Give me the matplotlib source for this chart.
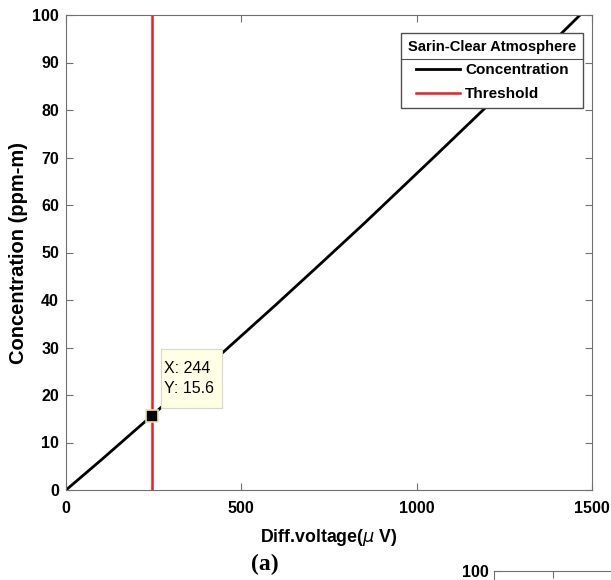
import matplotlib.pyplot as plt
from matplotlib.lines import Line2D
from matplotlib.patches import Rectangle

plt.rcParams['font.family'] = ['Liberation Sans', 'DejaVu Sans']

# Concentration curve
volt = [0, 100, 244, 445, 600, 724, 850, 1061, 1250, 1466, 1500]
conc = [0, 6.3, 15.6, 28.8, 39.1, 47.5, 56.1, 70.9, 84.3, 100.0, 102.5]

thr_x = 244
thr_y = 15.6

legend_title = 'Sarin-Clear Atmosphere'

fig = plt.figure(figsize=(6.11, 5.80), dpi=100)
ax = fig.add_axes([66/611, 90/580, 526/611, 475/580])

ax.plot(volt, conc, color='black', lw=2, label='Concentration')
ax.axvline(thr_x, color='#ee1c24', lw=1.8, label='Threshold')

# datatip
ax.plot([thr_x], [thr_y], marker='s', ms=9, mfc='black', mec='#e8e4b0', mew=1.2, zorder=5)
ax.add_patch(Rectangle((thr_x + 27, thr_y + 1.7), 174, 12.4, fc='#ffffe6', ec='#d8d8c8',
                       lw=0.8, zorder=6))
ax.text(thr_x + 36, thr_y + 7.9, 'X: %d\nY: %.1f' % (thr_x, thr_y), fontsize=11.5,
        linespacing=1.45, va='center', ha='left', zorder=7)

ax.set_xlim(0, 1500)
ax.set_ylim(0, 100)
ax.set_xticks([0, 500, 1000, 1500])
ax.set_yticks(range(0, 101, 10))
ax.tick_params(direction='in', top=True, right=True, length=5, color='#707070',
               labelsize=11.5)
ax.tick_params(axis='x', pad=8)
ax.tick_params(axis='y', pad=5)
for lab in ax.get_xticklabels() + ax.get_yticklabels():
    lab.set_fontweight('bold')
for sp in ax.spines.values():
    sp.set_color('#707070')

ax.set_xlabel('Diff.voltage($\\mu$ V)', fontsize=12.8, fontweight='bold', labelpad=8)
ax.set_ylabel('Concentration (ppm-m)', fontsize=14.5, fontweight='bold', labelpad=3)

leg = ax.legend(loc='upper right', bbox_to_anchor=(0.9835, 0.962), borderaxespad=0,
                title=legend_title, fontsize=11,
                title_fontproperties={'weight': 'bold', 'size': 10.6},
                fancybox=False, edgecolor='#505050', framealpha=1, handlelength=2.9,
                handletextpad=0.35, borderpad=0.45, labelspacing=0.62)
for t in leg.get_texts():
    t.set_fontweight('bold')
leg.get_frame().set_linewidth(1.0)

fig.text(265/611, 1 - 564/580, '(a)', fontsize=17, fontweight='bold',
         family='Liberation Serif', ha='center', va='center')

# partial next panel cut at the bottom edge
ax2 = fig.add_axes([494/611, -0.3, 0.4, 0.3 + 9/580])
ax2.set_ylim(0, 100)
ax2.set_yticks([100])
ax2.set_xticks([0.241])
ax2.tick_params(direction='in', top=True, bottom=False, labelbottom=False,
                length=5, color='#707070', labelsize=11.5)
for lab in ax2.get_yticklabels():
    lab.set_fontweight('bold')
for sp in ax2.spines.values():
    sp.set_color('#707070')

# separator line under the legend title
fig.canvas.draw()
r = fig.canvas.get_renderer()
fb = leg.get_frame().get_window_extent(r)
tb = leg.get_title().get_window_extent(r)
ysep = tb.y0 - 5
fig.add_artist(Line2D([fb.x0 / fig.bbox.width, fb.x1 / fig.bbox.width],
                      [ysep / fig.bbox.height] * 2, color='#505050', lw=0.8))

fig.savefig('out.png', dpi=100)
